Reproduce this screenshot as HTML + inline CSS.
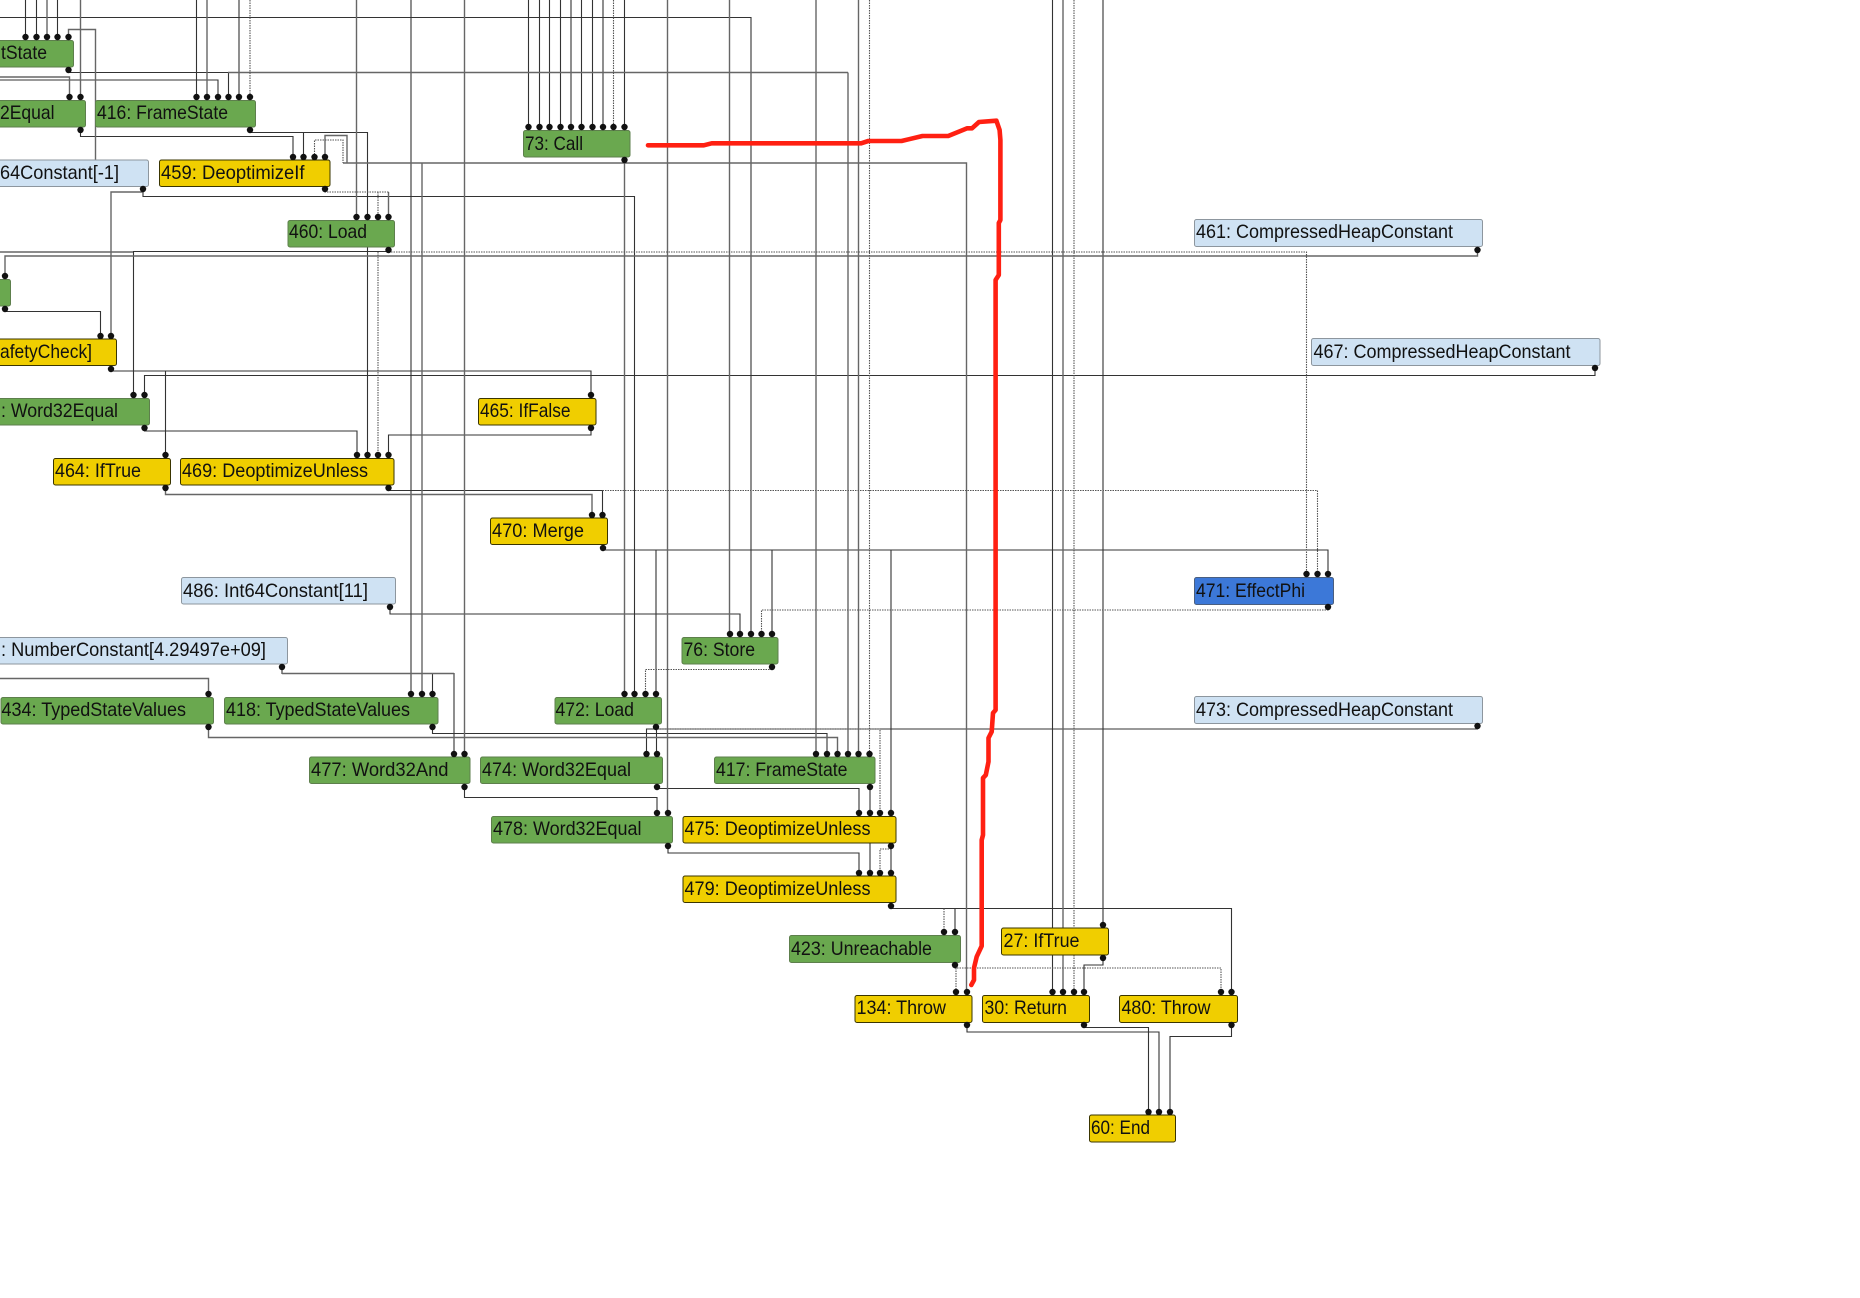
<!DOCTYPE html>
<html><head><meta charset="utf-8"><style>
html,body{margin:0;padding:0;background:#fff}
svg{display:block}
text{font-family:"Liberation Sans",sans-serif;font-size:19.5px;fill:#111}
.l path{fill:none}
.a path{stroke:#333;stroke-width:1.1}
.b path{stroke:#666;stroke-width:1.4}
.d path{stroke:#555;stroke-width:1.1;stroke-dasharray:1.5 1}
.g rect{fill:#6aa84f;stroke:#5d7f4c}
.y rect{fill:#f0ce00;stroke:#3a3500}
.c rect{fill:#cfe2f3;stroke:#8d969e}
.p rect{fill:#3c78d8;stroke:#4a5f80}
.dots circle{r:3.2px;fill:#111}
</style></head><body>
<svg width="1860" height="1298" viewBox="0 0 1860 1298" xmlns="http://www.w3.org/2000/svg">
<rect width="1860" height="1298" fill="#fff"/>

<g class="l a">
<path d="M25.5 0V37M36.5 0V37M57.5 0V37M196.5 0V97M239 0V97M411 0V694M528.5 0V127M539.5 0V127M549.5 0V127M560.5 0V127M571 0V127M581.5 0V127M592.5 0V127M603 0V127M624.5 0V127M1052.5 0V992M1103 0V925"/>
<path d="M68.5 70V72.5H228.5V97"/>
<path d="M0 80H218V97"/>
<path d="M0 17.5H751V634"/>
<path d="M250 130V132.5H367.5V455M303.5 132.5V157"/>
<path d="M80.5 130V136.5H293V157"/>
<path d="M143 189V196.5H634.5V694"/>
<path d="M388.5 250V251.5H133.5V396"/>
<path d="M5 309V311.5H100.5V336"/>
<path d="M111 369V371H591V395M165.5 371V455"/>
<path d="M1595 368V375.5H144.5V396"/>
<path d="M144.5 428V431H357V455"/>
<path d="M591 428V435H388.5V455"/>
<path d="M388.5 488V490.5H602.5V515"/>
<path d="M603 548V550H1328V574M656 550V694M772 550V634M891 550V814"/>
<path d="M390 607V614H740V634"/>
<path d="M282 667V673.5H454V754M432.5 673.5V694"/>
<path d="M432.5 727V733.5H827V754"/>
<path d="M656 727V729H646.5V754M656.5 729V754"/>
<path d="M1477.5 726V729H646.5"/>
<path d="M657 787V788.5H859V814"/>
<path d="M464.5 787V797.5H657V814"/>
<path d="M870 787V873"/>
<path d="M891 846V873"/>
<path d="M668 846V853H859V873"/>
<path d="M891 906V908.5H1231.5V992M955 908.5V932"/>
<path d="M1103 958V965H1084V992"/>
<path d="M1084 1025V1027.5H1148.5V1112"/>
<path d="M967 1025V1032H1159V1112"/>
<path d="M1231.5 1025V1036.5H1170V1112"/>
</g>
<g class="l b">
<path d="M47 0V37M80.5 0V97M207 0V97M356.5 0V217M422 163V694M464.5 0V754M667.5 0V813M729.5 0V634M816 0V754M848 72.5V754M858.5 0V754M1063 0V992"/>
<path d="M68.5 37V29.5H95.5V160"/>
<path d="M0 77H69.5V97"/>
<path d="M228 72.5H848"/>
<path d="M325 157V135.5H347V163"/>
<path d="M343 163H966.5V992M624.5 160V694"/>
<path d="M143 189V192H111V336"/>
<path d="M388.5 192V217"/>
<path d="M0 252H133"/>
<path d="M1477.5 250V256H5V276"/>
<path d="M165.5 488V494.5H592V515"/>
<path d="M282 673.5H454"/>
<path d="M0 678.5H208.5V694"/>
<path d="M208.5 727V737.5H837.5V754"/>
</g>
<g class="l d">
<path d="M250 0V97M613.5 0V127M869.5 0V754M1074 0V992"/>
<path d="M314.5 157V140H343V163"/>
<path d="M325 189V192H388.5M378 192V217"/>
<path d="M388.5 252H1306.5V574M378 252V455"/>
<path d="M602.5 490.5H1317.5V574"/>
<path d="M1328 607V610H761.5V634"/>
<path d="M772 667V669.5H645.5V694"/>
<path d="M656 729H880V814"/>
<path d="M891 846V849H880V873"/>
<path d="M944 908.5V932"/>
<path d="M955 965V968H1221V992M956 968V992"/>
</g>

<g class="g">
<rect x="-5" y="40.5" width="78.5" height="26.5" rx="2"/>
<rect x="-5" y="100.5" width="90.5" height="26.5" rx="2"/>
<rect x="95.5" y="100.5" width="160" height="26.5" rx="2"/>
<rect x="523.5" y="130.5" width="106.5" height="26.5" rx="2"/>
<rect x="288" y="220.5" width="106.5" height="26.5" rx="2"/>
<rect x="-5" y="279.5" width="15.5" height="26.5" rx="2"/>
<rect x="-5" y="398.5" width="154.5" height="26.5" rx="2"/>
<rect x="682" y="637.5" width="96" height="26.5" rx="2"/>
<rect x="1" y="697.5" width="212.5" height="26.5" rx="2"/>
<rect x="224.5" y="697.5" width="213.5" height="26.5" rx="2"/>
<rect x="555" y="697.5" width="106.5" height="26.5" rx="2"/>
<rect x="309.5" y="757" width="160.5" height="26.5" rx="2"/>
<rect x="480.5" y="757" width="182" height="26.5" rx="2"/>
<rect x="714.5" y="757" width="160.5" height="26.5" rx="2"/>
<rect x="491.5" y="816.5" width="181" height="26.5" rx="2"/>
<rect x="789.5" y="935.5" width="171" height="27" rx="2"/>
</g>
<g class="y">
<rect x="159.5" y="160" width="170.5" height="26.5" rx="2"/>
<rect x="-5" y="339" width="121.5" height="26.5" rx="2"/>
<rect x="478.5" y="398.5" width="117.5" height="26.5" rx="2"/>
<rect x="53.5" y="458.5" width="117" height="26.5" rx="2"/>
<rect x="180.5" y="458.5" width="213.5" height="26.5" rx="2"/>
<rect x="490.5" y="518" width="117" height="26.5" rx="2"/>
<rect x="683" y="816.5" width="213" height="26.5" rx="2"/>
<rect x="683" y="876" width="213" height="26.5" rx="2"/>
<rect x="1001.5" y="928" width="107" height="27" rx="2"/>
<rect x="855" y="995.5" width="117" height="27" rx="2"/>
<rect x="982.5" y="995.5" width="107" height="27" rx="2"/>
<rect x="1119.5" y="995.5" width="118" height="27" rx="2"/>
<rect x="1089.5" y="1115" width="86" height="27" rx="2"/>
</g>
<g class="c">
<rect x="-5" y="160" width="153.5" height="26.5" rx="2"/>
<rect x="1194.5" y="219.5" width="288" height="27" rx="2"/>
<rect x="1311.5" y="338.5" width="288.5" height="27" rx="2"/>
<rect x="181.5" y="577.5" width="214" height="26.5" rx="2"/>
<rect x="-5" y="637.5" width="292.5" height="26.5" rx="2"/>
<rect x="1194.5" y="696.5" width="288" height="27" rx="2"/>
</g>
<g class="p"><rect x="1194.5" y="577.5" width="139" height="27" rx="2"/></g>

<g>
<text x="1" y="59" textLength="46" lengthAdjust="spacingAndGlyphs">tState</text>
<text x="0" y="119" textLength="54.5" lengthAdjust="spacingAndGlyphs">2Equal</text>
<text x="97" y="119" textLength="131" lengthAdjust="spacingAndGlyphs">416: FrameState</text>
<text x="0" y="179" textLength="119" lengthAdjust="spacingAndGlyphs">64Constant[-1]</text>
<text x="161" y="179" textLength="143.5" lengthAdjust="spacingAndGlyphs">459: DeoptimizeIf</text>
<text x="525" y="150" textLength="58" lengthAdjust="spacingAndGlyphs">73: Call</text>
<text x="289" y="238" textLength="78" lengthAdjust="spacingAndGlyphs">460: Load</text>
<text x="1196" y="238" textLength="257" lengthAdjust="spacingAndGlyphs">461: CompressedHeapConstant</text>
<text x="0" y="358" textLength="92" lengthAdjust="spacingAndGlyphs">afetyCheck]</text>
<text x="1313.5" y="358" textLength="257" lengthAdjust="spacingAndGlyphs">467: CompressedHeapConstant</text>
<text x="1" y="417" textLength="117" lengthAdjust="spacingAndGlyphs">: Word32Equal</text>
<text x="480" y="417" textLength="90.5" lengthAdjust="spacingAndGlyphs">465: IfFalse</text>
<text x="55" y="477" textLength="86" lengthAdjust="spacingAndGlyphs">464: IfTrue</text>
<text x="182" y="477" textLength="186" lengthAdjust="spacingAndGlyphs">469: DeoptimizeUnless</text>
<text x="492" y="537" textLength="92" lengthAdjust="spacingAndGlyphs">470: Merge</text>
<text x="183" y="597" textLength="185" lengthAdjust="spacingAndGlyphs">486: Int64Constant[11]</text>
<text x="1196" y="597" textLength="109" lengthAdjust="spacingAndGlyphs">471: EffectPhi</text>
<text x="1" y="656" textLength="265" lengthAdjust="spacingAndGlyphs">: NumberConstant[4.29497e+09]</text>
<text x="683.5" y="656" textLength="71.5" lengthAdjust="spacingAndGlyphs">76: Store</text>
<text x="1.5" y="716" textLength="184.5" lengthAdjust="spacingAndGlyphs">434: TypedStateValues</text>
<text x="226" y="716" textLength="184" lengthAdjust="spacingAndGlyphs">418: TypedStateValues</text>
<text x="555.5" y="716" textLength="78.5" lengthAdjust="spacingAndGlyphs">472: Load</text>
<text x="1196" y="716" textLength="257" lengthAdjust="spacingAndGlyphs">473: CompressedHeapConstant</text>
<text x="311" y="776" textLength="137.5" lengthAdjust="spacingAndGlyphs">477: Word32And</text>
<text x="482" y="776" textLength="149" lengthAdjust="spacingAndGlyphs">474: Word32Equal</text>
<text x="716" y="776" textLength="131.5" lengthAdjust="spacingAndGlyphs">417: FrameState</text>
<text x="493" y="835" textLength="148.5" lengthAdjust="spacingAndGlyphs">478: Word32Equal</text>
<text x="684.5" y="835" textLength="186" lengthAdjust="spacingAndGlyphs">475: DeoptimizeUnless</text>
<text x="684.5" y="895" textLength="186" lengthAdjust="spacingAndGlyphs">479: DeoptimizeUnless</text>
<text x="791" y="955" textLength="141" lengthAdjust="spacingAndGlyphs">423: Unreachable</text>
<text x="1003.5" y="947" textLength="76" lengthAdjust="spacingAndGlyphs">27: IfTrue</text>
<text x="856.5" y="1014" textLength="89.5" lengthAdjust="spacingAndGlyphs">134: Throw</text>
<text x="984.5" y="1014" textLength="82.5" lengthAdjust="spacingAndGlyphs">30: Return</text>
<text x="1121.5" y="1014" textLength="89" lengthAdjust="spacingAndGlyphs">480: Throw</text>
<text x="1091" y="1134" textLength="59" lengthAdjust="spacingAndGlyphs">60: End</text>
</g>

<g class="dots">
<circle cx="25.5" cy="37"/><circle cx="36.5" cy="37"/><circle cx="47" cy="37"/><circle cx="57.5" cy="37"/><circle cx="68.5" cy="37"/><circle cx="68.5" cy="70"/>
<circle cx="69.5" cy="97"/><circle cx="80.5" cy="97"/><circle cx="80.5" cy="130"/>
<circle cx="196.5" cy="97"/><circle cx="207" cy="97"/><circle cx="218" cy="97"/><circle cx="228.5" cy="97"/><circle cx="239" cy="97"/><circle cx="250" cy="97"/><circle cx="250" cy="130"/>
<circle cx="528.5" cy="127"/><circle cx="539.5" cy="127"/><circle cx="549.5" cy="127"/><circle cx="560.5" cy="127"/><circle cx="571" cy="127"/><circle cx="581.5" cy="127"/><circle cx="592.5" cy="127"/><circle cx="603" cy="127"/><circle cx="613.5" cy="127"/><circle cx="624.5" cy="127"/><circle cx="624.5" cy="160"/>
<circle cx="293" cy="157"/><circle cx="303.5" cy="157"/><circle cx="314.5" cy="157"/><circle cx="325" cy="157"/><circle cx="325" cy="189"/><circle cx="143" cy="189"/>
<circle cx="356.5" cy="217"/><circle cx="367.5" cy="217"/><circle cx="378" cy="217"/><circle cx="388.5" cy="217"/><circle cx="388.5" cy="250"/>
<circle cx="1477.5" cy="250"/><circle cx="5" cy="276"/><circle cx="5" cy="309"/>
<circle cx="100.5" cy="336"/><circle cx="111" cy="336"/><circle cx="111" cy="369"/><circle cx="1595" cy="368"/>
<circle cx="133.5" cy="395"/><circle cx="144.5" cy="395"/><circle cx="144.5" cy="428"/><circle cx="591" cy="395"/><circle cx="591" cy="428"/>
<circle cx="165.5" cy="455"/><circle cx="165.5" cy="488"/><circle cx="357" cy="455"/><circle cx="367.5" cy="455"/><circle cx="378" cy="455"/><circle cx="388.5" cy="455"/><circle cx="388.5" cy="488"/>
<circle cx="592" cy="515"/><circle cx="602.5" cy="515"/><circle cx="603" cy="548"/>
<circle cx="390" cy="607"/><circle cx="1306.5" cy="574"/><circle cx="1317.5" cy="574"/><circle cx="1328" cy="574"/><circle cx="1328" cy="607"/>
<circle cx="282" cy="667"/><circle cx="730" cy="634"/><circle cx="740" cy="634"/><circle cx="751" cy="634"/><circle cx="761.5" cy="634"/><circle cx="772" cy="634"/><circle cx="772" cy="667"/>
<circle cx="208.5" cy="694"/><circle cx="208.5" cy="727"/><circle cx="411" cy="694"/><circle cx="422" cy="694"/><circle cx="432.5" cy="694"/><circle cx="432.5" cy="727"/>
<circle cx="624.5" cy="694"/><circle cx="634.5" cy="694"/><circle cx="645.5" cy="694"/><circle cx="656" cy="694"/><circle cx="656" cy="727"/><circle cx="1477.5" cy="726"/>
<circle cx="454" cy="754"/><circle cx="464.5" cy="754"/><circle cx="464.5" cy="787"/><circle cx="646.5" cy="754"/><circle cx="657" cy="754"/><circle cx="657" cy="787"/>
<circle cx="816" cy="754"/><circle cx="827" cy="754"/><circle cx="837.5" cy="754"/><circle cx="848" cy="754"/><circle cx="858.5" cy="754"/><circle cx="869.5" cy="754"/><circle cx="870" cy="787"/>
<circle cx="657" cy="813"/><circle cx="668" cy="813"/><circle cx="668" cy="846"/><circle cx="859" cy="813"/><circle cx="870" cy="813"/><circle cx="880" cy="813"/><circle cx="891" cy="813"/><circle cx="891" cy="846"/>
<circle cx="859" cy="873"/><circle cx="870" cy="873"/><circle cx="880" cy="873"/><circle cx="891" cy="873"/><circle cx="891" cy="906"/>
<circle cx="944" cy="932"/><circle cx="955" cy="932"/><circle cx="955" cy="965"/><circle cx="1103" cy="925"/><circle cx="1103" cy="958"/>
<circle cx="956" cy="992"/><circle cx="967" cy="992"/><circle cx="967" cy="1025"/><circle cx="1052.5" cy="992"/><circle cx="1063" cy="992"/><circle cx="1074" cy="992"/><circle cx="1084" cy="992"/><circle cx="1084" cy="1025"/>
<circle cx="1221" cy="992"/><circle cx="1231.5" cy="992"/><circle cx="1231.5" cy="1025"/>
<circle cx="1148.5" cy="1112"/><circle cx="1159" cy="1112"/><circle cx="1170" cy="1112"/>
</g>

<path d="M648 145.3H703.8L711.7 143.3H861.2L868.3 141H901.5L908.6 139.3L922.5 136H948.2L967.2 128.3H972L979 122L996.4 120.7L999.6 130L1000.4 140V220L998.8 223V275L995.6 280V710L993 713L991.7 731.7L988.5 738V761.7L985.8 775L983 778V835L981.7 840V946L976.7 956.7L974 968V980L971.3 985" fill="none" stroke="#ff2012" stroke-width="4.6" stroke-linecap="round" stroke-linejoin="round"/>
</svg>
</body></html>
